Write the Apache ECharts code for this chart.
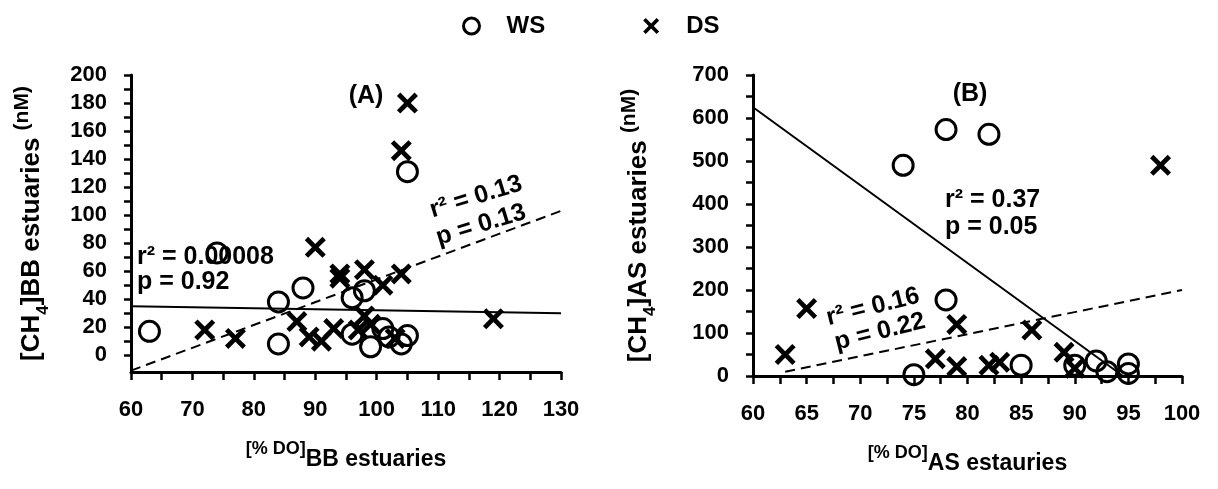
<!DOCTYPE html>
<html><head><meta charset="utf-8">
<script src="https://cdn.jsdelivr.net/npm/echarts@6/dist/echarts.min.js"></script>
<style>html,body{margin:0;padding:0;background:#fff}#c{width:1218px;height:489px}</style>
</head><body><div id="c"></div>
<script>
// Panel A (BB estuaries)
const wsA = [[63,17],[74,73],[84,38],[84,8],[88,48],[96,41],[98,46],[96,15],[99,6],[101,19],[102,13],[104,8],[105,14],[105,131]];
const dsA = [[72,18],[77,12],[87,24],[89,13],[91,10],[93,19],[90,77],[94,58],[94,55],[98,61],[101,50],[104,58],[98,28],[97,18],[99,22],[103,12],[104,146],[105,180],[119,26]];
const fitWsA = [[60,35],[130,30]];
const fitDsA = [[60,-11],[130,103]];
// Panel B (AS estuaries)
const wsB = [[74,490],[78,573],[82,562],[78,177],[75,3],[85,25],[90,25],[92,35],[93,10],[95,28],[95,6]];
const dsB = [[63,50],[65,157],[77,40],[79,120],[79,22],[82,25],[83,32],[86,107],[89,55],[90,18],[98,490]];
const fitWsB = [[60,625],[94.5,0]];
const fitDsB = [[63,10],[100,200]];
// Tick labels
const xLabelsA = [60,70,80,90,100,110,120,130];
const xTicksA = [60,65,70,75,80,85,90,95,100,105,110,115,120,125,130];
const yLabelsA = [0,20,40,60,80,100,120,140,160,180,200];
const yTicksA = [0,10,20,30,40,50,60,70,80,90,100,110,120,130,140,150,160,170,180,190,200];
const xLabelsB = [60,65,70,75,80,85,90,95,100];
const xTicksB = [60,62.5,65,67.5,70,72.5,75,77.5,80,82.5,85,87.5,90,92.5,95,97.5,100];
const yLabelsB = [0,100,200,300,400,500,600,700];
const yTicksB = [0,50,100,150,200,250,300,350,400,450,500,550,600,650,700];

const FONT = '"Liberation Sans", Arial, sans-serif';
const X_PATH = 'path://M0,1.6L1.6,0L5,3.4L8.4,0L10,1.6L6.6,5L10,8.4L8.4,10L5,6.6L1.6,10L0,8.4L3.4,5Z';

const lbl = {color:'#000', fontSize:22, fontWeight:'bold', fontFamily:FONT};
function xAxisCfg(gi, min, max, labels, ticks, sub){
  return {gridIndex:gi, type:'value', min:min, max:max,
    axisLine:{onZero:false, lineStyle:{color:'#000', width:3}},
    axisTick:{customValues:ticks, length:8, lineStyle:{color:'#000', width:2.5}},
    axisLabel:Object.assign({customValues:labels, margin:27}, lbl),
    splitLine:{show:false},
    name:'{a|[% DO]}{b|' + sub + '}', nameLocation:'middle', nameGap:68,
    nameTextStyle:{fontFamily:FONT, fontWeight:'bold', color:'#000',
      rich:{a:{fontSize:18, fontWeight:'bold', fontFamily:FONT, color:'#000', lineHeight:15, verticalAlign:'top'},
            b:{fontSize:23, fontWeight:'bold', fontFamily:FONT, color:'#000', lineHeight:40}}}
  };
}
function yAxisCfg(gi, min, max, labels, ticks, sub, gap){
  return {gridIndex:gi, type:'value', min:min, max:max,
    axisLine:{onZero:false, lineStyle:{color:'#000', width:3}},
    axisTick:{customValues:ticks, length:7, lineStyle:{color:'#000', width:2.5}},
    axisLabel:Object.assign({customValues:labels, margin:24}, lbl),
    splitLine:{show:false},
    name:'{a|[CH}{s|4}{a|]' + sub + ' estuaries }{n|(nM)}', nameLocation:'middle', nameGap:gap, nameRotate:90,
    nameTextStyle:{fontFamily:FONT, fontWeight:'bold', color:'#000',
      rich:{a:{fontSize:26, fontWeight:'bold', fontFamily:FONT, color:'#000', lineHeight:40},
            s:{fontSize:17, fontWeight:'bold', fontFamily:FONT, color:'#000', lineHeight:17, verticalAlign:'bottom'},
            n:{fontSize:21, fontWeight:'bold', fontFamily:FONT, color:'#000', lineHeight:20, verticalAlign:'top'}}}
  };
}
const circleStyle = {color:'rgba(0,0,0,0)', borderColor:'#000', borderWidth:3, opacity:1};
function wsSeries(gi, data){ return {name:'WS', type:'scatter', xAxisIndex:gi, yAxisIndex:gi, data:data, symbol:'circle', symbolSize:20, itemStyle:circleStyle, z:3}; }
function dsSeries(gi, data){ return {name:'DS', type:'scatter', xAxisIndex:gi, yAxisIndex:gi, data:data, symbol:X_PATH, symbolSize:21, itemStyle:{color:'#000', opacity:1}, z:4}; }
function fit(gi, data, dashed){ return {name:'fit', type:'line', xAxisIndex:gi, yAxisIndex:gi, data:data, showSymbol:false, symbol:'none', silent:true,
  lineStyle:{color:'#000', width:2, type: dashed ? [10,6] : 'solid'}, z:2}; }

function txt(x, y, s, opts){
  return Object.assign({type:'text', x:x, y:y, style:Object.assign({text:s, fill:'#000', font:'bold 25px ' + FONT, textAlign:'left', textVerticalAlign:'middle'}, opts && opts.style || {})}, opts && opts.el || {});
}
const rotA = 17*Math.PI/180, rotB = 14*Math.PI/180;

const chart = echarts.init(document.getElementById('c'), null, {renderer:'canvas'});
chart.setOption({
  animation:false,
  backgroundColor:'#fff',
  legend:{top:14, left:462, padding:0, itemGap:98, itemWidth:16, itemHeight:20,
    textStyle:{color:'#000', fontSize:24, fontWeight:'bold', fontFamily:FONT, padding:[0,0,0,22]},
    data:[{name:'WS', icon:'circle', itemStyle:circleStyle}, {name:'DS', icon:X_PATH, itemStyle:{color:'#000', opacity:1}}]},
  grid:[{left:131, top:75, width:430, height:297}, {left:753, top:75, width:429, height:301}],
  xAxis:[xAxisCfg(0, 60, 130, xLabelsA, xTicksA, 'BB estuaries'), xAxisCfg(1, 60, 100, xLabelsB, xTicksB, 'AS estauries')],
  yAxis:[yAxisCfg(0, -12, 200, yLabelsA, yTicksA, 'BB', 79), yAxisCfg(1, 0, 700, yLabelsB, yTicksB, 'AS', 94)],
  series:[wsSeries(0, wsA), dsSeries(0, dsA), fit(0, fitWsA, false), fit(0, fitDsA, true),
          wsSeries(1, wsB), dsSeries(1, dsB), fit(1, fitWsB, false), fit(1, fitDsB, true)],
  graphic:[
    txt(366, 96, '(A)', {style:{textAlign:'center'}}),
    txt(137, 257, 'r² = 0.00008'),
    txt(137, 282, 'p = 0.92'),
    txt(476, 197, 'r² = 0.13', {style:{textAlign:'center'}, el:{rotation:rotA}}),
    txt(481, 225, 'p = 0.13', {style:{textAlign:'center'}, el:{rotation:rotA}}),
    txt(970, 94, '(B)', {style:{textAlign:'center'}}),
    txt(945, 200, 'r² = 0.37'),
    txt(945, 227, 'p = 0.05'),
    txt(873, 307, 'r² = 0.16', {style:{textAlign:'center'}, el:{rotation:rotB}}),
    txt(880, 332, 'p = 0.22', {style:{textAlign:'center'}, el:{rotation:rotB}})
  ]
});
</script></body></html>
